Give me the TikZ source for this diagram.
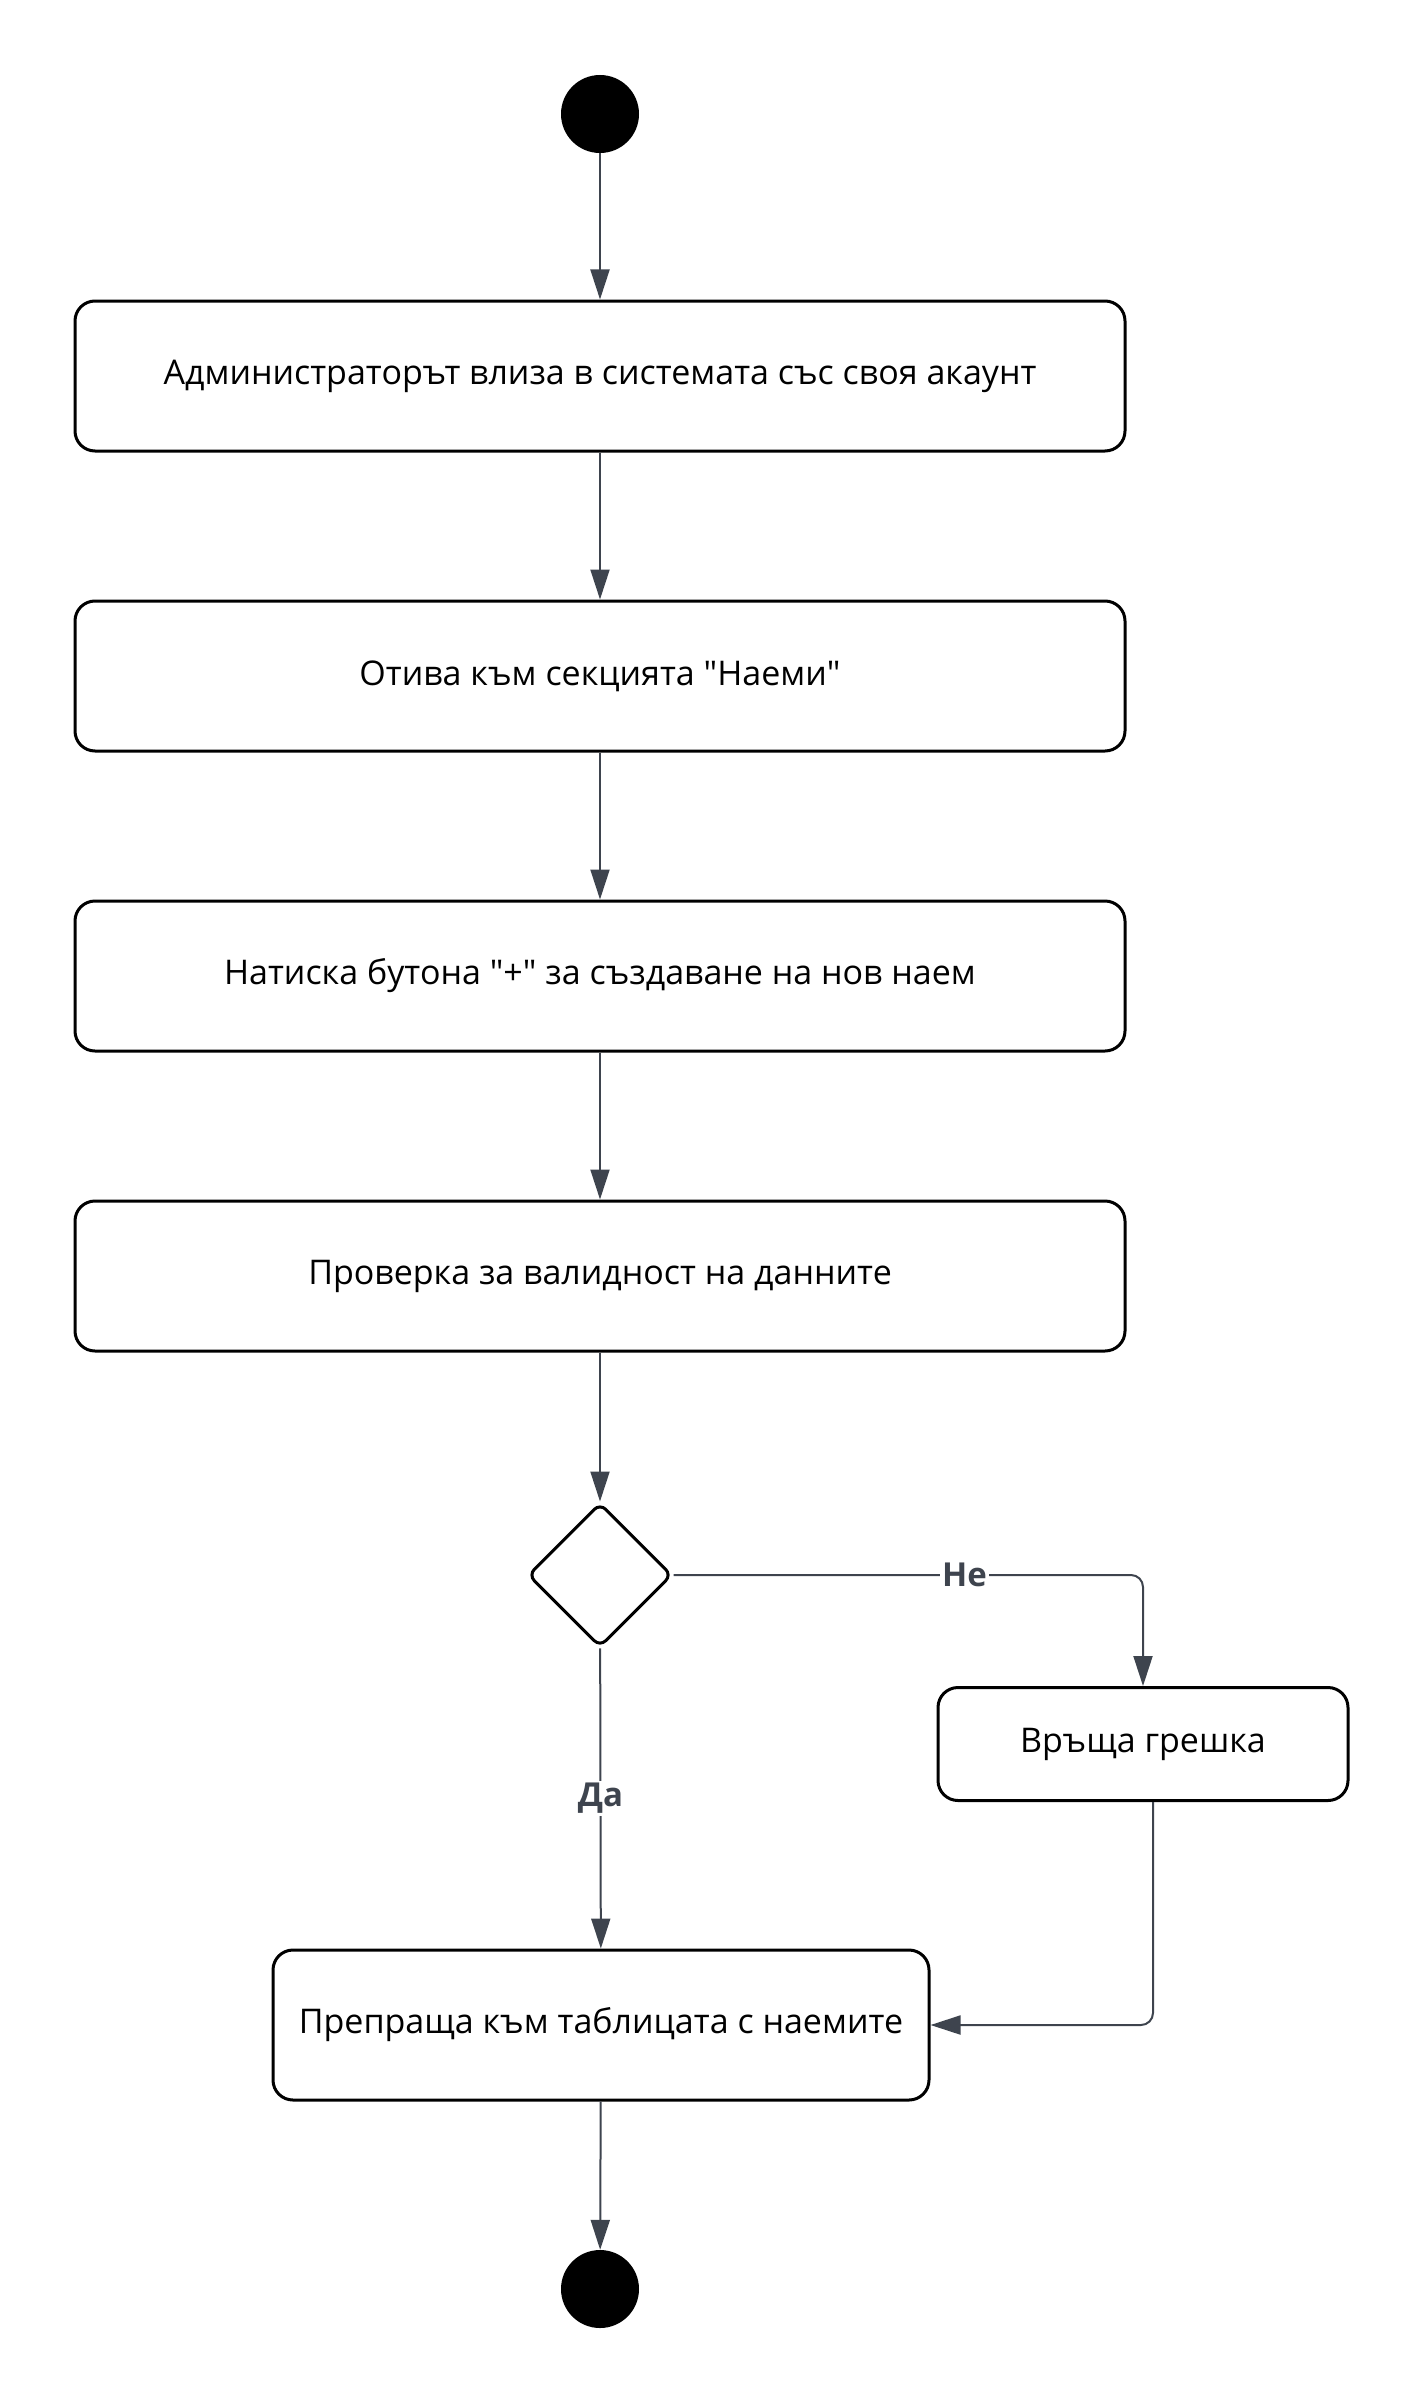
\documentclass[tikz,border=0pt]{standalone}
\usepackage{fontspec}
\setmainfont{Open Sans}
\usetikzlibrary{arrows.meta,shapes.geometric}
\definecolor{edgegray}{RGB}{62,68,78}
\tikzset{
 act/.style={draw=black,line width=3pt,rounded corners=20pt,minimum height=150pt,font=\fontsize{34}{40}\selectfont,align=center},
 dot/.style={fill=black,circle,minimum size=78pt,inner sep=0pt},
 flow/.style={draw=edgegray,line width=2pt,-{Triangle[length=30pt,width=19pt]}},
 lbl/.style={fill=white,text=edgegray,font=\bfseries\fontsize{33}{39}\selectfont,inner sep=2pt}
}

\begin{document}
\begin{tikzpicture}[x=1pt,y=-1pt]
\useasboundingbox (0,0) rectangle (1425,2400);
\node[dot] (start) at (600,114) {};
\foreach \i/\y/\t in {1/376/Администраторът влиза в системата със своя акаунт,
 2/676/Отива към секцията \textquotedbl Наеми\textquotedbl,
 3/976/Натиска бутона \textquotedbl+\textquotedbl{} за създаване на нов наем,
 4/1276/Проверка за валидност на данните} {
 \node[act,minimum width=1050pt] (a\i) at (600,\y) {\t};
 }
\node[draw=black,line width=3pt,diamond,minimum size=144pt,inner sep=0pt,rounded corners=8pt] (chk) at (600,1575) {};
\node[act,minimum width=410pt,minimum height=113pt] (err) at (1143,1744) {Връща грешка};
\node[act,minimum width=656pt] (fin) at (601,2025) {Препраща към таблицата с наемите};
\node[dot] (stop) at (600,2289) {};

\draw[flow] (start) -- (a1);
\foreach \i/\j in {1/2,2/3,3/4}
 \draw[flow] (a\i) -- (a\j);
\draw[flow] (a4) -- (chk);
\draw[flow,rounded corners=12pt] (chk.east) -| node[lbl,pos=0.31] {Не} (err.north);
\draw[flow] (chk) -- node[lbl] {Да} (fin);
\draw[flow,rounded corners=12pt] ([xshift=10pt]err.south) |- (fin.east);
\draw[flow] (fin) -- (stop);
\end{tikzpicture}
\end{document}
